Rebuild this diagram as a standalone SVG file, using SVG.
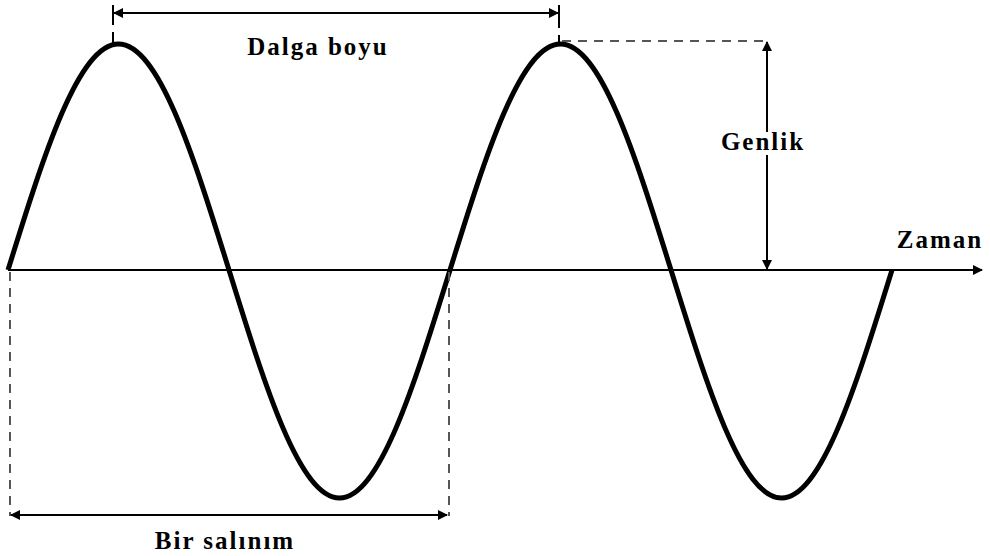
<svg xmlns="http://www.w3.org/2000/svg" width="990" height="556" viewBox="0 0 990 556">
<style>
.ln{stroke:#000;stroke-width:2;fill:none}
.dash{stroke:#555;stroke-width:2;fill:none;stroke-dasharray:9,7}
</style>
<defs>
<marker id="ah" viewBox="0 0 10 10" refX="9" refY="5" markerWidth="5" markerHeight="5" orient="auto-start-reverse" markerUnits="strokeWidth">
<path d="M0,0 L10,5 L0,10 Z" fill="#000"/>
</marker>
</defs>
<rect width="990" height="556" fill="#fff"/>
<g id="wave">
<path d="M8,270 c36,-115.8 70.5,-226 110.5,-226 s74.5,110.2 110.5,226 s70.5,228 110.5,228 s74.5,-112.2 110.5,-228 s70.5,-226 110.5,-226 s74.5,110.2 110.5,226 s70.5,228 110.5,228 s74.5,-112.2 110.5,-228" fill="none" stroke="#000" stroke-width="5" stroke-linejoin="round"/>
</g>
<g id="connectors">
<line class="ln" x1="8" y1="270" x2="982" y2="270" marker-end="url(#ah)"/>
<line class="ln" x1="114" y1="13" x2="558" y2="13" marker-start="url(#ah)" marker-end="url(#ah)"/>
<line class="ln" x1="113" y1="5" x2="113" y2="25"/>
<line class="ln" x1="113" y1="32" x2="113" y2="44"/>
<line class="ln" x1="559" y1="5" x2="559" y2="28"/>
<line class="ln" x1="559" y1="35" x2="559" y2="45"/>
<line class="dash" x1="562" y1="41" x2="764" y2="41"/>
<line class="ln" x1="767" y1="42" x2="767" y2="132" marker-start="url(#ah)"/>
<line class="ln" x1="767" y1="155" x2="767" y2="269" marker-end="url(#ah)"/>
<line class="dash" x1="10" y1="272" x2="10" y2="516"/>
<line class="dash" x1="449" y1="272" x2="449" y2="516"/>
<line class="ln" x1="11" y1="515" x2="447" y2="515" marker-start="url(#ah)" marker-end="url(#ah)"/>
</g>
<g id="label-dalga"><text x="318" y="55" text-anchor="middle" font-family="Liberation Serif" font-weight="bold" font-size="25" letter-spacing="2" fill="#000">Dalga boyu</text></g>
<g id="label-genlik"><text x="763" y="150" text-anchor="middle" font-family="Liberation Serif" font-weight="bold" font-size="25" letter-spacing="2" fill="#000">Genlik</text></g>
<g id="label-zaman"><text x="940" y="248" text-anchor="middle" font-family="Liberation Serif" font-weight="bold" font-size="25" letter-spacing="2" fill="#000">Zaman</text></g>
<g id="label-salinim"><text x="225" y="549" text-anchor="middle" font-family="Liberation Serif" font-weight="bold" font-size="25" letter-spacing="2" fill="#000">Bir salınım</text></g>
</svg>
